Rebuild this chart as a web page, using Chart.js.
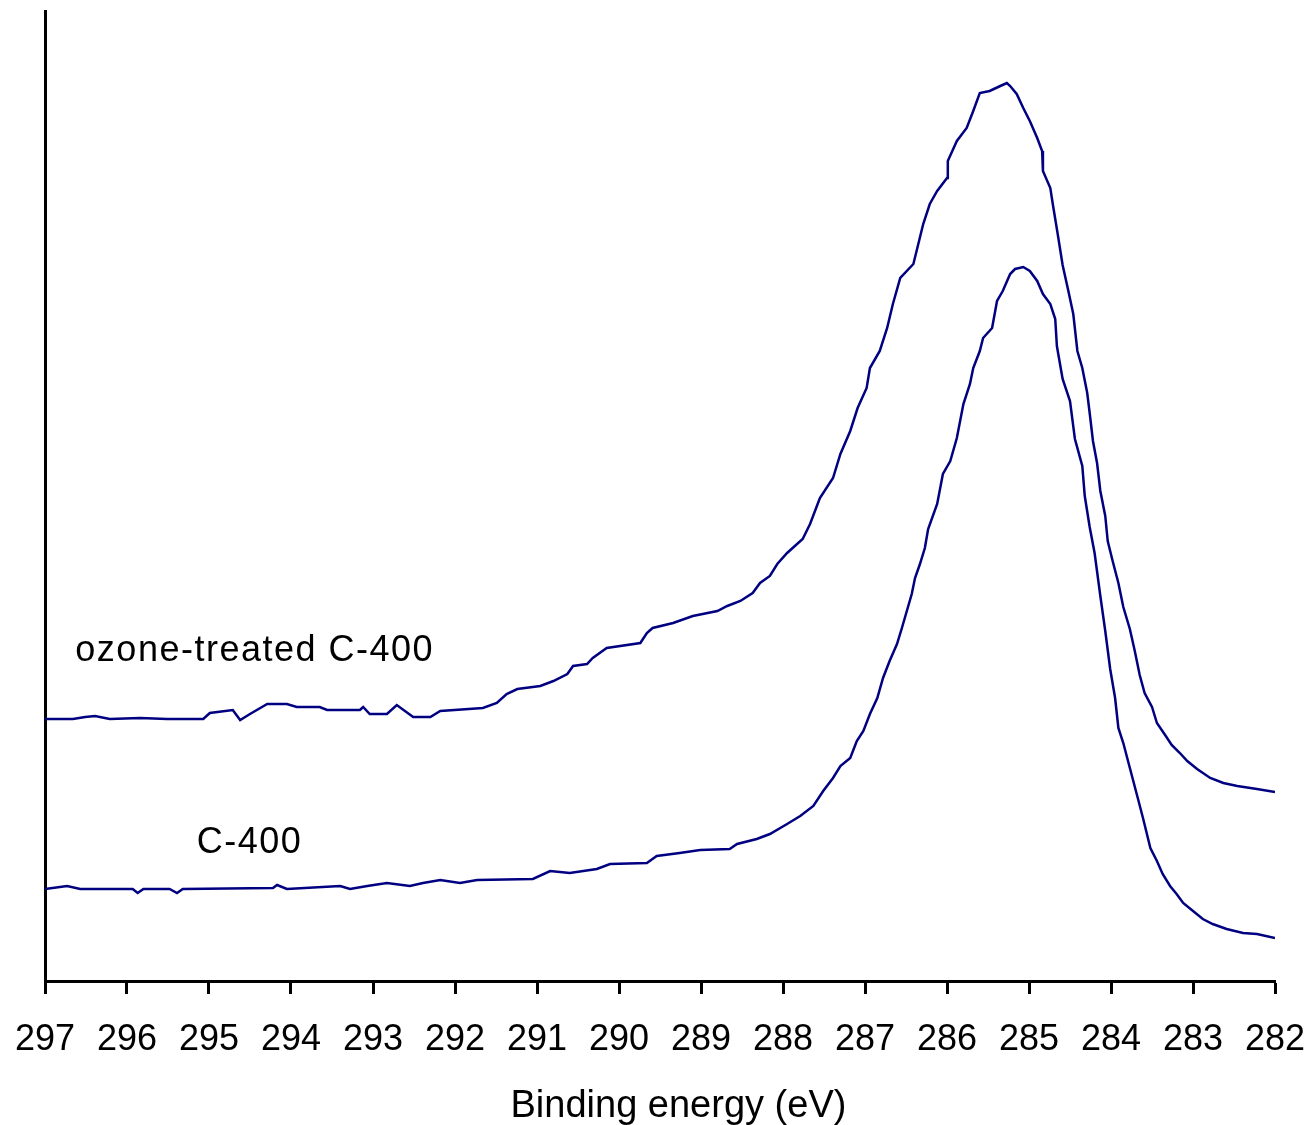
<!DOCTYPE html>
<html lang="en">
<head>
<meta charset="UTF-8">
<title>C1s XPS spectra</title>
<script src="https://cdn.jsdelivr.net/npm/chart.js"></script>
<style>
    body {
        margin: 0;
        padding: 0;
        background: #fff;
    }
    #wrap {
        width: 1307px;
        height: 1125px;
    }
</style>
</head>
<body>
<div id="wrap"><canvas id="xps" width="1307" height="1125"></canvas></div>
<script>
// binding energy (eV) / intensity (a.u.)
const ozoneEnergy = [297.00, 296.66, 296.51, 296.39, 296.21, 295.84, 295.51, 295.07, 294.99, 294.71,
    294.62, 294.50, 294.29, 294.05, 293.93, 293.65, 293.56, 293.16, 293.12, 293.04,
    292.83, 292.71, 292.51, 292.30, 292.18, 291.66, 291.49, 291.37, 291.24, 290.96,
    290.80, 290.63, 290.56, 290.39, 290.32, 290.15, 289.74, 289.66, 289.59, 289.34,
    289.10, 288.80, 288.68, 288.52, 288.37, 288.28, 288.16, 288.07, 287.95, 287.76,
    287.67, 287.55, 287.39, 287.30, 287.18, 287.09, 286.98, 286.94, 286.82, 286.73,
    286.66, 286.57, 286.41, 286.35, 286.29, 286.21, 286.12, 286.00, 285.99, 285.88,
    285.76, 285.68, 285.60, 285.48, 285.35, 285.27, 285.23, 285.15, 285.07, 284.99,
    284.90, 284.84, 284.83, 284.74, 284.71, 284.65, 284.59, 284.52, 284.46, 284.41,
    284.35, 284.29, 284.26, 284.22, 284.17, 284.13, 284.07, 284.04, 283.98, 283.91,
    283.85, 283.77, 283.71, 283.65, 283.59, 283.50, 283.44, 283.34, 283.26, 283.16,
    283.07, 282.95, 282.79, 282.63, 282.46, 282.22, 282.00];
const ozoneIntensity = [262, 262, 264, 265, 262, 263, 262, 262, 268, 271,
    261, 267, 277, 277, 274, 274, 271, 271, 274, 267,
    267, 276, 264, 264, 270, 273, 278, 287, 292, 295,
    300, 307, 315, 317, 323, 333, 338, 348, 353, 358,
    365, 370, 375, 380, 388, 398, 405, 417, 428, 442,
    457, 483, 503, 527, 550, 573, 593, 613, 630, 653,
    677, 703, 717, 737, 757, 777, 790, 803, 820, 840,
    853, 870, 888, 890, 895, 898, 895, 887, 873, 860,
    843, 830, 810, 793, 777, 747, 716, 690, 667, 630,
    613, 588, 568, 540, 518, 490, 465, 440, 420, 398,
    374, 352, 330, 306, 288, 274, 258, 246, 236, 228,
    220, 212, 203, 198, 195, 192, 189];

const c400Energy = [297.00, 296.73, 296.57, 295.93, 295.87, 295.80, 295.48, 295.39, 295.32, 294.22,
    294.17, 294.05, 293.40, 293.28, 293.07, 292.83, 292.55, 292.39, 292.18, 291.94,
    291.73, 291.05, 290.84, 290.60, 290.27, 290.11, 289.66, 289.54, 289.26, 289.01,
    288.65, 288.56, 288.32, 288.16, 287.95, 287.79, 287.63, 287.51, 287.39, 287.30,
    287.18, 287.10, 287.02, 286.94, 286.85, 286.78, 286.70, 286.61, 286.55, 286.49,
    286.43, 286.39, 286.33, 286.27, 286.23, 286.12, 286.05, 285.96, 285.88, 285.80,
    285.72, 285.68, 285.60, 285.56, 285.45, 285.39, 285.32, 285.23, 285.17, 285.07,
    284.99, 284.90, 284.83, 284.74, 284.68, 284.66, 284.59, 284.50, 284.44, 284.35,
    284.32, 284.26, 284.20, 284.13, 284.07, 284.01, 283.95, 283.91, 283.85, 283.77,
    283.68, 283.61, 283.52, 283.44, 283.37, 283.28, 283.20, 283.12, 283.00, 282.88,
    282.76, 282.59, 282.39, 282.22, 282.00];
const c400Intensity = [92, 95, 92, 92, 88, 92, 92, 88, 92, 93,
    96, 92, 95, 92, 95, 98, 95, 98, 101, 98,
    101, 102, 110, 108, 112, 117, 118, 125, 128, 131,
    132, 137, 142, 147, 157, 165, 175, 190, 203, 215,
    223, 240, 250, 267, 283, 303, 320, 337, 353, 370,
    387, 403, 417, 433, 452, 477, 507, 520, 543, 577,
    597, 613, 630, 643, 653, 680, 690, 707, 712, 714,
    710, 700, 687, 677, 662, 635, 602, 580, 542, 515,
    485, 454, 428, 385, 350, 312, 283, 253, 238, 213,
    185, 163, 133, 120, 107, 95, 87, 78, 70, 62,
    57, 52, 48, 47, 43];

const energyTicks = [297, 296, 295, 294, 293, 292, 291, 290, 289, 288, 287, 286, 285, 284, 283, 282];
const seriesNames = ['ozone-treated C-400', 'C-400'];
const axisTitle = 'Binding energy (eV)';

const FONT = '"Liberation Sans", Arial, sans-serif';

// curve labels and the x axis title
const textPlugin = {
    id: 'curveText',
    afterDraw(chart) {
        const ctx = chart.ctx;
        const x = chart.scales.x;
        const y = chart.scales.y;
        const area = chart.chartArea;
        ctx.save();
        ctx.fillStyle = '#000';
        ctx.textBaseline = 'alphabetic';
        ctx.textAlign = 'left';
        ctx.font = '36px ' + FONT;
        ctx.letterSpacing = '1.5px';
        ctx.fillText(seriesNames[0], x.getPixelForValue(296.63), y.getPixelForValue(320));
        ctx.fillText(seriesNames[1], x.getPixelForValue(295.15), y.getPixelForValue(128));
        ctx.letterSpacing = '0px';
        ctx.font = '38px ' + FONT;
        ctx.textAlign = 'center';
        ctx.fillText(axisTitle, area.left + area.width * 0.515, 1117);
        ctx.restore();
    }
};

const lineStyle = {
    showLine: true,
    borderColor: '#000080',
    backgroundColor: '#000080',
    borderWidth: 2.5,
    pointRadius: 0,
    tension: 0,
    fill: false
};

new Chart(document.getElementById('xps'), {
    type: 'scatter',
    data: {
        datasets: [
            Object.assign({
                label: seriesNames[0],
                data: ozoneEnergy.map((e, i) => ({ x: e, y: ozoneIntensity[i] }))
            }, lineStyle),
            Object.assign({
                label: seriesNames[1],
                data: c400Energy.map((e, i) => ({ x: e, y: c400Intensity[i] }))
            }, lineStyle)
        ]
    },
    options: {
        responsive: false,
        animation: false,
        layout: { padding: { top: 11, right: 32, left: 0, bottom: 0 } },
        plugins: {
            legend: { display: false },
            tooltip: { enabled: false }
        },
        scales: {
            x: {
                type: 'linear',
                min: 282,
                max: 297,
                reverse: true,
                afterFit(s) {
                    s.height = 144;
                    s.paddingLeft = 0;
                    s.paddingRight = 0;
                },
                afterBuildTicks(s) { s.ticks = energyTicks.map(v => ({ value: v })); },
                ticks: {
                    color: '#000',
                    font: { family: FONT, size: 36 },
                    padding: 24,
                    maxRotation: 0,
                    autoSkip: false
                },
                grid: {
                    drawOnChartArea: false,
                    tickLength: 13,
                    tickWidth: 3,
                    tickColor: '#000'
                },
                border: { display: true, color: '#000', width: 3 }
            },
            y: {
                min: 0,
                max: 970,
                afterFit(s) { s.width = 45; },
                ticks: { display: false },
                grid: { drawOnChartArea: false, drawTicks: false },
                border: { display: true, color: '#000', width: 3 }
            }
        }
    },
    plugins: [textPlugin]
});
</script>
</body>
</html>
